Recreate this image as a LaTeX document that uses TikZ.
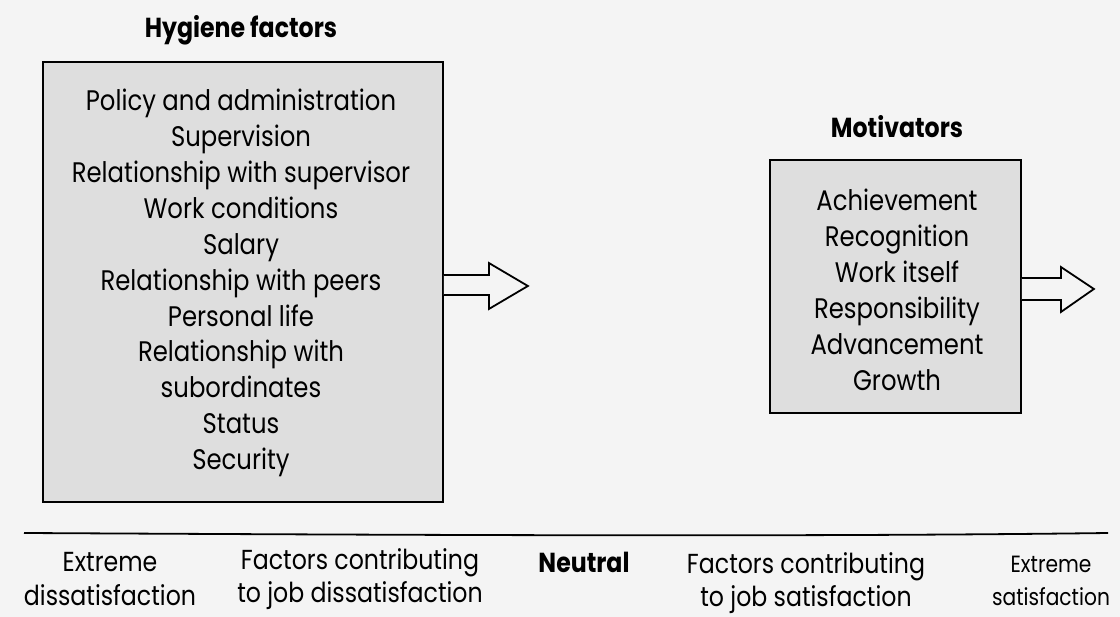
\documentclass[tikz,border=0pt]{standalone}
\usepackage{fontspec}
\setmainfont{Poppins}[FakeStretch=0.86]
\usetikzlibrary{calc}
\definecolor{bgpaper}{gray}{0.955}
\definecolor{boxfill}{gray}{0.87}
\tikzset{
  x=1pt, y=-1pt,
  box/.style={draw=black, line width=1.8pt, fill=boxfill, inner sep=0pt},
  listtext/.style={align=center, font=\fontsize{28.3}{35.9}\selectfont, inner sep=0pt},
  title/.style={font=\fontsize{27.5}{30}\selectfont\bfseries, inner sep=0pt},
  label/.style={align=center, font=\fontsize{27.5}{33.5}\selectfont, inner sep=0pt},
  smalllabel/.style={align=center, font=\fontsize{23.5}{33}\selectfont, inner sep=0pt},
  bigarrow/.style={draw=black, line width=1.8pt, fill=bgpaper, line join=miter},
}
\begin{document}
\begin{tikzpicture}
\fill[bgpaper] (0,0) rectangle (1120,617);
\useasboundingbox (0,0) rectangle (1120,617);

% Hygiene factors
\node[title] (hygtitle) at (241,30) {Hygiene factors};
\node[box, minimum width=400pt, minimum height=440pt] (hyg) at (243,282) {};
\node[listtext] (hyglist) at (241,283) {Policy and administration\\Supervision\\Relationship with supervisor\\Work conditions\\Salary\\Relationship with peers\\Personal life\\Relationship with\\subordinates\\Status\\Security};

% Motivators
\node[title] (mottitle) at (897,127) {Motivators};
\node[box, minimum width=251pt, minimum height=253pt] (mot) at (895.5,286.5) {};
\node[listtext] (motlist) at (897,290) {Achievement\\Recognition\\Work itself\\Responsibility\\Advancement\\Growth};

% Arrows
\coordinate (ha) at ($(hyg.east)+(0,-7)$);
\coordinate (hb) at ($(hyg.east)+(0,13)$);
\path[bigarrow, draw=none] (ha) -- ++(45,0) -- ++(0,-12) -- ++(39,23) -- ++(-39,23) -- ++(0,-14) -- (hb) -- cycle;
\draw[bigarrow, fill=none] (ha) -- ++(45,0) -- ++(0,-12) -- ++(39,23) -- ++(-39,23) -- ++(0,-14) -- (hb);

\coordinate (ma) at ($(mot.east)+(0,-8.5)$);
\coordinate (mb) at ($(mot.east)+(0,13.5)$);
\path[bigarrow, draw=none] (ma) -- ++(39,0) -- ++(0,-11) -- ++(33,22) -- ++(-33,23) -- ++(0,-12) -- (mb) -- cycle;
\draw[bigarrow, fill=none] (ma) -- ++(39,0) -- ++(0,-11) -- ++(33,22) -- ++(-33,23) -- ++(0,-12) -- (mb);

% Scale line
\coordinate (sl) at (24,533);
\coordinate (sr) at (1108,533);
\draw[line width=1.8pt] (sl) .. controls (400,535) and (800,537) .. (sr);

% Bottom labels
\node[label] (xdis) at (110,579) {Extreme\\dissatisfaction};
\node[label] (fdis) at (360,579) {Factors contributing\\to job dissatisfaction};
\node[title] (neutral) at (584,562) {Neutral};
\node[label] (fsat) at (806,583) {Factors contributing\\to job satisfaction};
\node[smalllabel] (xsat) at (1051,581) {Extreme\\satisfaction};
\end{tikzpicture}
\end{document}
